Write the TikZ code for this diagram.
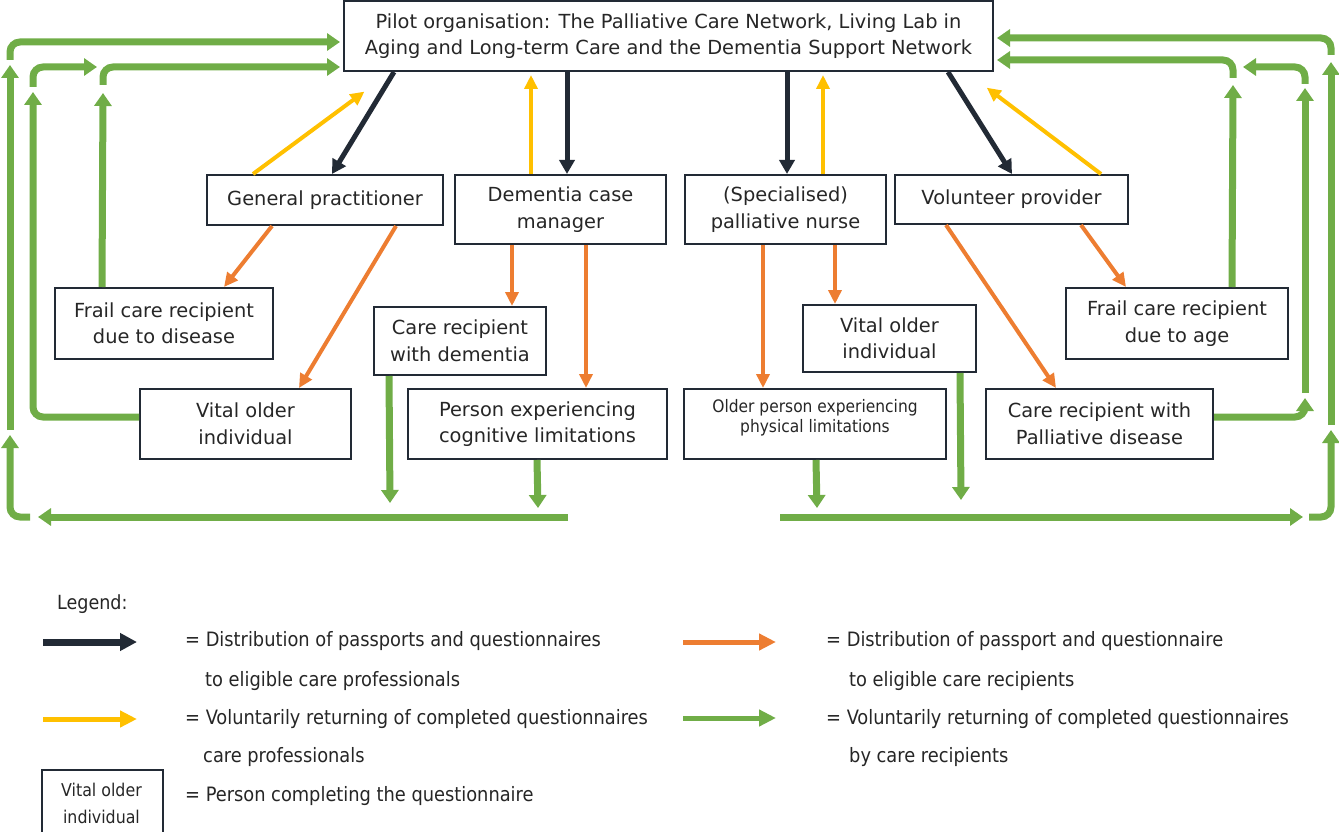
\documentclass[tikz,border=0pt]{standalone}
\usepackage{fontspec}
\setmainfont{DejaVu Sans}
\newfontfamily\condfont{DejaVu Sans Condensed}
\usetikzlibrary{arrows.meta}
\definecolor{navy}{HTML}{222A35}
\definecolor{gold}{HTML}{FFC000}
\definecolor{orng}{HTML}{ED7D31}
\definecolor{grn}{HTML}{70AD47}
\tikzset{
  box/.style={draw=navy, line width=2pt, inner sep=0pt, align=center,
    font=\fontsize{19.4}{26.5}\selectfont, text=black!85},
  smallbox/.style={box, font=\condfont\fontsize{17.2}{20}\selectfont},
  darr/.style={draw=navy, line width=5pt, -{Triangle[width=15pt,length=14pt]}},
  yarr/.style={draw=gold, line width=4pt, -{Triangle[width=13pt,length=14pt]}},
  oarr/.style={draw=orng, line width=4pt, -{Triangle[width=13pt,length=14pt]}},
  garr/.style={draw=grn, line width=7pt, rounded corners=10pt, -{Triangle[width=17pt,length=13pt]}},
  legtext/.style={anchor=west, inner sep=0pt, font=\condfont\fontsize{19.8}{24}\selectfont, text=black!85},
}
\begin{document}
\begin{tikzpicture}[x=1pt,y=-1pt]
\useasboundingbox (0,0) rectangle (1339,832);
% boxes
\node[box, minimum width=649pt, minimum height=70pt] (pilot) at (668.5,36)
  {Pilot organisation: The Palliative Care Network, Living Lab in\\Aging and Long-term Care and the Dementia Support Network};
\node[box, minimum width=236pt, minimum height=50pt] (gp) at (325,200) {General practitioner};
\node[box, minimum width=211pt, minimum height=69pt] (dcm) at (560.5,209.5) {Dementia case\\manager};
\node[box, minimum width=201pt, minimum height=69pt] (nurse) at (785.5,209.5) {(Specialised)\\palliative nurse};
\node[box, minimum width=233pt, minimum height=49pt] (vol) at (1011.5,199.5) {Volunteer provider};
\node[box, minimum width=218pt, minimum height=71pt] (frailD) at (164,323.5) {Frail care recipient\\due to disease};
\node[box, minimum width=172pt, minimum height=68pt] (crwd) at (460,341) {Care recipient\\with dementia};
\node[box, minimum width=211pt, minimum height=70pt] (vitalL) at (245.5,424) {Vital older\\individual};
\node[box, minimum width=259pt, minimum height=70pt] (pcog) at (537.5,424) {Person experiencing\\cognitive limitations};
\node[box, minimum width=173pt, minimum height=67pt] (vitalR) at (889.5,338.5) {Vital older\\individual};
\node[box, minimum width=262pt, minimum height=70pt] (ophys) at (815,424) {};
\node[font=\condfont\fontsize{17.2}{20}\selectfont, align=center, inner sep=0pt, text=black!85] (ophysT) at (815,418) {Older person experiencing\\physical limitations};
\node[box, minimum width=227pt, minimum height=70pt] (crpal) at (1099.5,424) {Care recipient with\\Palliative disease};
\node[box, minimum width=222pt, minimum height=71pt] (frailA) at (1177,323.5) {Frail care recipient\\due to age};

% dark arrows
\draw[darr] ([xshift=51pt]pilot.south west) -- ([xshift=126pt]gp.north west);
\draw[darr] ([xshift=224pt]pilot.south west) -- ([xshift=113pt]dcm.north west);
\draw[darr] ([xshift=444pt]pilot.south west) -- ([xshift=103pt]nurse.north west);
\draw[darr] ([xshift=605pt]pilot.south west) -- ([xshift=118pt]vol.north west);
% yellow arrows
\draw[yarr, shorten >=33pt] ([xshift=47pt]gp.north west) -- ([xshift=48pt]pilot.south west);
\draw[yarr, shorten >=3pt] ([xshift=77pt]dcm.north west) -- ([xshift=188pt]pilot.south west);
\draw[yarr, shorten >=3pt] ([xshift=139pt]nurse.north west) -- ([xshift=480pt]pilot.south west);
\draw[yarr, shorten >=26pt] ([xshift=207pt]vol.north west) -- ([xshift=623pt]pilot.south west);
% orange arrows
\draw[oarr] ([xshift=66pt]gp.south west) -- ([xshift=170pt]frailD.north west);
\draw[oarr] ([xshift=190pt]gp.south west) -- ([xshift=160pt]vitalL.north west);
\draw[oarr] ([xshift=58pt]dcm.south west) -- ([xshift=139pt]crwd.north west);
\draw[oarr] ([xshift=132pt]dcm.south west) -- ([xshift=179pt]pcog.north west);
\draw[oarr] ([xshift=79pt]nurse.south west) -- ([xshift=80pt]ophys.north west);
\draw[oarr] ([xshift=151pt]nurse.south west) -- ([xshift=33pt]vitalR.north west);
\draw[oarr] ([xshift=52pt]vol.south west) -- ([xshift=71pt]crpal.north west);
\draw[oarr] ([xshift=187pt]vol.south west) -- ([xshift=61pt]frailA.north west);

% green coordinates
\coordinate (pinL1) at (340,42);
\coordinate (pinL2) at (340,67);
\coordinate (pinR1) at (997,38);
\coordinate (pinR2) at (997,60);
\coordinate (bl1) at (568,517);
\coordinate (bl2) at (38,517);
\coordinate (br1) at (780,517);
\coordinate (br2) at (1303,517);
% green left
\draw[garr] ([xshift=48pt]frailD.north west) -- (103,93);
\draw[garr] (103,85) -- (103,67) -- (pinL2);
\draw[garr] ([yshift=7pt]vitalL.west) -- (33,417) -- (33,92);
\draw[garr] (33,87) -- (33,67) -- (97,67);
\draw[garr] (bl1) -- (bl2);
\draw[garr] (30,517) -- (10,517) -- (10,435);
\draw[garr] (10,430) -- (10,65);
\draw[garr] (10,60) -- (10,42) -- (pinL1);
\draw[garr] ([xshift=16pt]crwd.south west) -- (390,503);
\draw[garr] ([xshift=130pt]pcog.south west) -- (538,508);
% green right
\draw[garr] ([xshift=133pt]ophys.south west) -- (817,508);
\draw[garr] ([xshift=158pt]vitalR.south west) -- (961,500);
\draw[garr] (br1) -- (br2);
\draw[garr] (1309,517) -- (1331,517) -- (1331,430);
\draw[garr] (1331,425) -- (1331,62);
\draw[garr] (1331,55) -- (1331,38) -- (pinR1);
\draw[garr] ([yshift=7pt]crpal.east) -- (1305,417) -- (1305,398);
\draw[garr] (1305,393) -- (1305,88);
\draw[garr] (1305,84) -- (1305,67) -- (1243,67);
\draw[garr] ([xshift=167pt]frailA.north west) -- (1233,85);
\draw[garr] (1233,78) -- (1233,60) -- (pinR2);

% legend
\node[legtext, font=\condfont\fontsize{19.5}{22}\selectfont] (leg) at (57,604) {Legend:};
\coordinate (ld1) at (43,642); \coordinate (ld2) at (137,642);
\coordinate (ly1) at (43,719); \coordinate (ly2) at (137,719);
\coordinate (lo1) at (683,642); \coordinate (lo2) at (776,642);
\coordinate (lg1) at (683,718); \coordinate (lg2) at (776,718);
\draw[darr, line width=7pt, -{Triangle[width=17pt,length=17pt]}] (ld1) -- (ld2);
\draw[yarr, line width=5pt, -{Triangle[width=16pt,length=17pt]}] (ly1) -- (ly2);
\draw[oarr, line width=5pt, -{Triangle[width=16pt,length=17pt]}] (lo1) -- (lo2);
\draw[garr, line width=5pt, -{Triangle[width=16pt,length=17pt]}] (lg1) -- (lg2);
\node[legtext] (t1) at (185,641) {= Distribution of passports and questionnaires};
\node[legtext] (t2) at (205,681) {to eligible care professionals};
\node[legtext] (t3) at (185,719) {= Voluntarily returning of completed questionnaires};
\node[legtext] (t4) at (203,757) {care professionals};
\node[legtext] (t5) at (185,796) {= Person completing the questionnaire};
\node[legtext] (t6) at (826,641) {= Distribution of passport and questionnaire};
\node[legtext] (t7) at (849,681) {to eligible care recipients};
\node[legtext] (t8) at (826,719) {= Voluntarily returning of completed questionnaires};
\node[legtext] (t9) at (849,757) {by care recipients};
\node[box, minimum width=121pt, minimum height=72pt, anchor=north west] (lbox) at (41,769) {};
\node[font=\condfont\fontsize{17.6}{27}\selectfont, align=center, inner sep=0pt, text=black!85] (lboxT) at (101.5,803) {Vital older\\individual};
\end{tikzpicture}
\end{document}
